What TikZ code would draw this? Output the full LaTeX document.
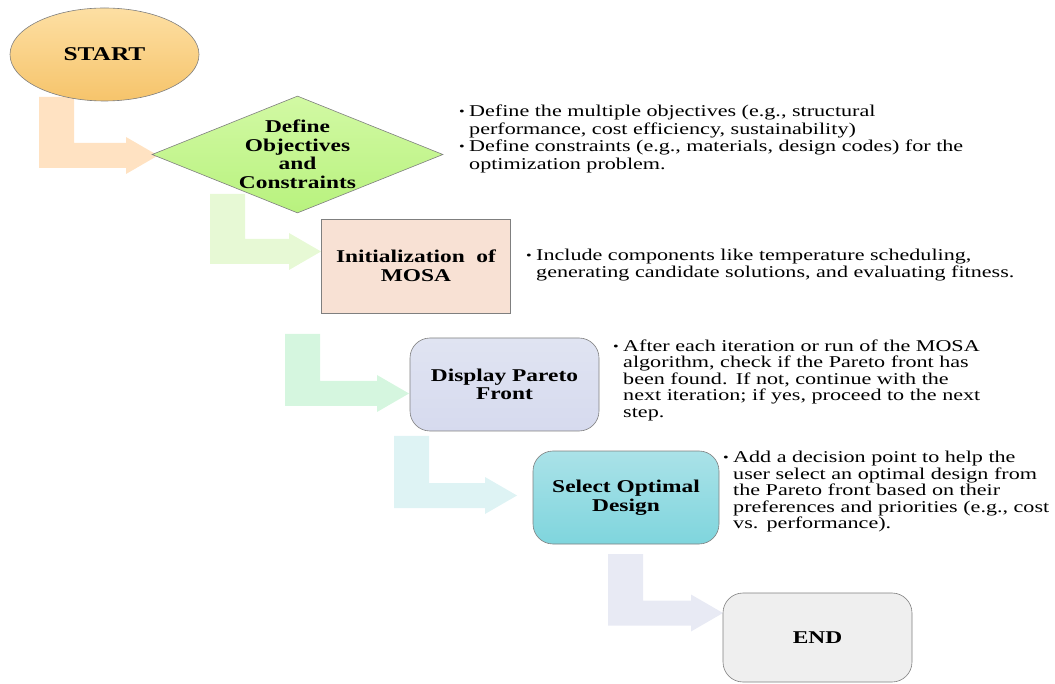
\documentclass[tikz,border=0pt]{standalone}
\usepackage{fontspec}
\setmainfont{Liberation Serif}
\newfontfamily\lblfont[FakeStretch=1.3]{Liberation Serif}
\newfontfamily\txtB[FakeStretch=1.34]{Liberation Serif}
\usetikzlibrary{shapes.geometric}
\definecolor{bordc}{HTML}{7F7F7F}
\definecolor{startA}{HTML}{FDDFA3}
\definecolor{startB}{HTML}{F6C46B}
\definecolor{diaA}{HTML}{D2F9A4}
\definecolor{diaB}{HTML}{B8F27E}
\definecolor{initc}{HTML}{F8E1D4}
\definecolor{dispA}{HTML}{E0E4F2}
\definecolor{dispB}{HTML}{D6DAEE}
\definecolor{selA}{HTML}{AAE2E8}
\definecolor{selB}{HTML}{7FD5DD}
\definecolor{endc}{HTML}{EFEFEF}
\definecolor{arA}{HTML}{FFE2C2}
\definecolor{arB}{HTML}{E7F9D5}
\definecolor{arC}{HTML}{D5F6DF}
\definecolor{arD}{HTML}{DEF3F4}
\definecolor{arE}{HTML}{E8EAF4}
\newcommand\Larrow[5]{%
\fill[#1] (#2,-#3) -- (#2+35,-#3) -- (#2+35,-#5+12.5) -- (#4-32,-#5+12.5)
 -- (#4-32,-#5+18.5) -- (#4,-#5) -- (#4-32,-#5-18.5) -- (#4-32,-#5-12.5)
 -- (#2,-#5-12.5) -- cycle;}
\newcommand\bul{\makebox[10pt][l]{\raisebox{1pt}{\fontsize{12}{12}\selectfont\textbullet}}}
\newcommand\bitem{\par\hangindent=10pt\hangafter=1\noindent\bul}
\tikzset{
  shapebox/.style={draw=bordc, line width=0.6pt, inner sep=0pt, align=center,
    font=\lblfont\fontsize{18}{18.5}\selectfont\bfseries},
  notes/.style={anchor=north west, inner sep=0pt, align=left}
}
\begin{document}
\begin{tikzpicture}[x=1pt,y=1pt]
\useasboundingbox (0,0) rectangle (1055,-684);
% block arrows
\Larrow{arA}{39}{97}{158}{155.5}
\Larrow{arB}{210}{194}{321}{251.5}
\Larrow{arC}{285}{334}{409}{393.5}
\Larrow{arD}{394}{436}{517}{495.5}
\Larrow{arE}{608}{554}{723}{613}
% nodes
\node[shapebox, ellipse, minimum width=189, minimum height=93, top color=startA, bottom color=startB,
  font=\lblfont\fontsize{19.5}{20}\selectfont\bfseries] (start) at (104.5,-54.5) {START};
\node[shapebox, diamond, aspect=2.49, minimum width=291, minimum height=117, top color=diaA, bottom color=diaB]
  (obj) at (297.5,-154.5) {Define\\Objectives\\and\\Constraints};
\node[shapebox, rectangle, minimum width=189, minimum height=94, fill=initc]
  (init) at (416,-266) {Initialization\ \ of\\MOSA};
\node[shapebox, rectangle, rounded corners=20pt, minimum width=189, minimum height=93, top color=dispA, bottom color=dispB]
  (disp) at (504.5,-384.5) {Display Pareto\\Front};
\node[shapebox, rectangle, rounded corners=20pt, minimum width=186, minimum height=93, top color=selA, bottom color=selB]
  (sel) at (626,-497.5) {Select Optimal\\Design};
\node[shapebox, rectangle, rounded corners=20pt, minimum width=189, minimum height=89, fill=endc]
  (end) at (817.5,-637.5) {END};
% notes
\node[notes, text width=590, font=\txtB\fontsize{16.5}{17.6}\selectfont] (n1) at (459,-99) {%
\bitem Define\ the multiple\ objectives (e.g.,\ structural\newline performance, cost efficiency,\ sustainability)\par
\bitem Define\ constraints (e.g., materials,\ design\ codes) for the\newline optimization\ problem.\par};
\node[notes, text width=525, font=\txtB\fontsize{16.5}{16.5}\selectfont] (n2) at (526,-244) {%
\bitem Include components like\ temperature\ scheduling,\newline generating\ candidate solutions, and evaluating\ fitness.\par};
\node[notes, text width=440, font=\txtB\fontsize{16.5}{16.4}\selectfont] (n3) at (613,-335) {%
\bitem After each iteration\ or run of the MOSA\newline algorithm,\ check if the Pareto front has\newline been found. If not, continue with\ the\newline next iteration;\ if yes, proceed to the next\newline step.\par};
\node[notes, text width=330, font=\txtB\fontsize{16.5}{16.5}\selectfont] (n4) at (723,-446) {%
\bitem Add a decision point to help the\newline user select an optimal\ design from\newline the Pareto front based on their\newline preferences and priorities\ (e.g., cost\newline vs. performance).\par};
\end{tikzpicture}
\end{document}
